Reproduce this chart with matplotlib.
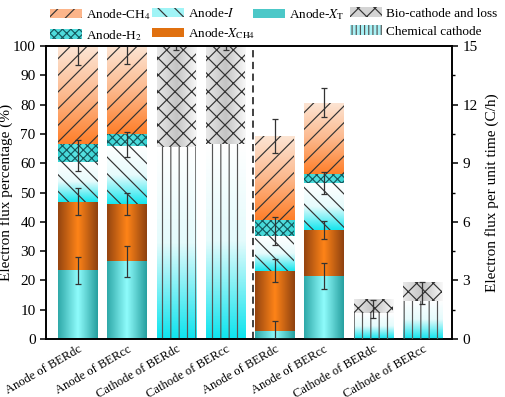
import numpy as np
import matplotlib
matplotlib.use("Agg")
from matplotlib import pyplot as plt
from matplotlib import transforms
from matplotlib.colors import LinearSegmentedColormap
from matplotlib.patches import Patch

plt.rcParams["font.family"] = ["Liberation Serif", "DejaVu Serif"]
plt.rcParams["mathtext.fontset"] = "stix"
plt.rcParams["hatch.linewidth"] = 0.85

categories = ["Anode of BERdc", "Anode of BERcc", "Cathode of BERdc", "Cathode of BERcc",
              "Anode of BERdc", "Anode of BERcc", "Cathode of BERdc", "Cathode of BERcc"]

# left axis (%) - anode bars 1-2
pct_xt = [23.5, 26.7]
pct_xch4 = [23.2, 19.5]
pct_i = [13.8, 19.7]
pct_h2 = [6.1, 4.0]
pct_ch4 = [33.4, 30.1]
pct_err_mid = [[23.4, 26.6], [46.9, 46.1], [62.6, 66.4], [100, 100]]
pct_err = [[4.7, 5.3], [4.6, 3.8], [5.2, 4.4], [6.5, 6.1]]

# left axis (%) - cathode bars 3-4
pct_chem = [65.4, 66.7]
pct_bio = [34.6, 33.3]
pct_cat_err_mid = [100, 100]
pct_cat_err = [1.4, 1.2]

# right axis (C/h) - anode bars 5-6
rate_xt = [0.43, 3.23]
rate_xch4 = [3.05, 2.35]
rate_i = [1.79, 2.39]
rate_h2 = [0.82, 0.48]
rate_ch4 = [4.32, 3.65]
rate_err_mid = [[0.43, 3.22], [3.5, 5.58], [5.55, 8.0], [10.4, 12.1]]
rate_err = [[0.5, 0.66], [0.6, 0.48], [0.72, 0.55], [0.86, 0.73]]

# right axis (C/h) - cathode bars 7-8
rate_chem = [1.33, 1.95]
rate_bio = [0.70, 0.98]
rate_cat_err_mid = [1.55, 2.35]
rate_cat_err = [0.45, 0.55]

# gradient styles: (colors, direction, hatch, hatch color); "v" goes top -> bottom
styles = {
    "xt": (["#2fa9a9", "#8ffcfc", "#27a0a0"], "h", None, None),
    "xch4": (["#954510", "#ff8418", "#8f4210"], "h", None, None),
    "i": (["#ffffff", "#e6fbfc", "#18e6ee"], "v", "\\\\", "#333333"),
    "h2": (["#38d2d2", "#5fe6e6", "#38d2d2"], "h", "xxxx", "#14595e"),
    "ch4": (["#fde5d4", "#fcb98e", "#ff7f2a"], "v", "//", "#333333"),
    "bio": (["#e8e8e8", "#c4c4c4", "#f8f8f8"], "h", "xx", "#333333"),
    "chem": (["#ffffff", "#e4fbfc", "#10e4ee"], "v", "||", "#555555"),
}


def grad_bar(ax, x, height, bottom, kind, width=0.8):
    colors, direction, hatch, hcolor = styles[kind]
    rect = ax.bar(x, height, width, bottom=bottom, color="none", linewidth=0, zorder=2)[0]
    cmap = LinearSegmentedColormap.from_list(kind, colors)
    if direction == "h":
        img = np.linspace(0, 1, 64).reshape(1, -1)
    else:
        img = np.linspace(0, 1, 64).reshape(-1, 1)
    x0, y0 = rect.get_x(), rect.get_y()
    im = ax.imshow(img, cmap=cmap, aspect="auto", interpolation="bilinear",
                   extent=(x0, x0 + rect.get_width(), y0, y0 + rect.get_height()), zorder=1)
    im.set_clip_path(rect)
    if hatch:
        ax.bar(x, height, width, bottom=bottom, color="none", edgecolor=hcolor,
               hatch=hatch, linewidth=0, zorder=3)


def stack(ax, xs, parts):
    bottoms = np.zeros(len(xs))
    for kind, vals in parts:
        for j, x in enumerate(xs):
            grad_bar(ax, x, vals[j], bottoms[j], kind)
        bottoms += np.array(vals)


fig = plt.figure(figsize=(5.05, 3.97), dpi=100)
ax = fig.add_axes([0.091, 0.146, 0.804, 0.738])
ax2 = ax.twinx()

x = np.arange(len(categories))
ekw = dict(fmt="none", ecolor="#333333", elinewidth=0.9, capsize=2.5, capthick=0.9, zorder=5)

stack(ax, x[0:2], [("xt", pct_xt), ("xch4", pct_xch4), ("i", pct_i), ("h2", pct_h2), ("ch4", pct_ch4)])
for mid, err in zip(pct_err_mid, pct_err):
    ax.errorbar(x[0:2], mid, yerr=err, **ekw)
stack(ax, x[2:4], [("chem", pct_chem), ("bio", pct_bio)])
ax.errorbar(x[2:4], pct_cat_err_mid, yerr=pct_cat_err, **ekw)

stack(ax2, x[4:6], [("xt", rate_xt), ("xch4", rate_xch4), ("i", rate_i), ("h2", rate_h2), ("ch4", rate_ch4)])
for mid, err in zip(rate_err_mid, rate_err):
    ax2.errorbar(x[4:6], mid, yerr=err, **ekw)
stack(ax2, x[6:8], [("chem", rate_chem), ("bio", rate_bio)])
ax2.errorbar(x[6:8], rate_cat_err_mid, yerr=rate_cat_err, **ekw)

ax.axvline(3.55, color="#333333", linestyle=(0, (4, 2.5)), linewidth=1.3, zorder=6)

ax.set_xlim(-0.65, 7.6)
ax.set_ylim(0, 100)
ax2.set_ylim(0, 15)
ax.set_yticks(np.arange(0, 101, 10))
ax2.set_yticks(np.arange(0, 16, 3))
ax2.set_yticks(np.arange(1.5, 15, 3), minor=True)
ax.set_xticks(x)
ax.set_xticklabels(categories, rotation=30, ha="right", rotation_mode="anchor", fontsize=9)
shift = transforms.ScaledTranslation(4 / 100, 0, fig.dpi_scale_trans)
for lbl in ax.get_xticklabels():
    lbl.set_transform(lbl.get_transform() + shift)
ax.tick_params(axis="x", length=0, pad=3)
ax.tick_params(axis="y", direction="out", labelsize=11, width=1.1, length=4)
ax2.tick_params(axis="y", which="major", direction="out", labelsize=11, width=1.1, length=4)
ax2.tick_params(axis="y", which="minor", direction="out", width=1.0, length=2.5)
for a in (ax, ax2):
    for s in a.spines.values():
        s.set_linewidth(1.2)

ax.set_ylabel("Electron flux percentage (%)", fontsize=11, labelpad=0)
ax2.set_ylabel("Electron flux per unit time (C/h)", fontsize=11, labelpad=5)

# legend, one column at a time
leg_cols = [
    [Patch(facecolor="#fcb58a", edgecolor="#333333", hatch="//", linewidth=0, label="Anode-CH$_4$"),
     Patch(facecolor="#4fdcdc", edgecolor="#14595e", hatch="xxxx", linewidth=0, label="Anode-H$_2$")],
    [Patch(facecolor="#a0f4f6", edgecolor="#333333", hatch="\\\\", linewidth=0, label="Anode-$\\mathit{I}$"),
     Patch(facecolor="#e0700f", edgecolor="none", label="Anode-$X_{\\mathrm{CH4}}$")],
    [Patch(facecolor="#4cc8c8", edgecolor="none", label="Anode-$X_{\\mathrm{T}}$")],
    [Patch(facecolor="#d4d4d4", edgecolor="#333333", hatch="xx", linewidth=0, label="Bio-cathode and loss"),
     Patch(facecolor="#a8f2f6", edgecolor="#555555", hatch="||||", linewidth=0, label="Chemical cathode")],
]
leg_x = [0.099, 0.301, 0.501, 0.693]
for hs, lx in zip(leg_cols, leg_x):
    fig.legend(handles=hs, loc="upper left", bbox_to_anchor=(lx, 0.982), frameon=False,
               fontsize=9.5, handlelength=2.4, handleheight=0.75, handletextpad=0.3,
               labelspacing=0.44, borderpad=0, borderaxespad=0)

fig.savefig("out.png", dpi=100)
